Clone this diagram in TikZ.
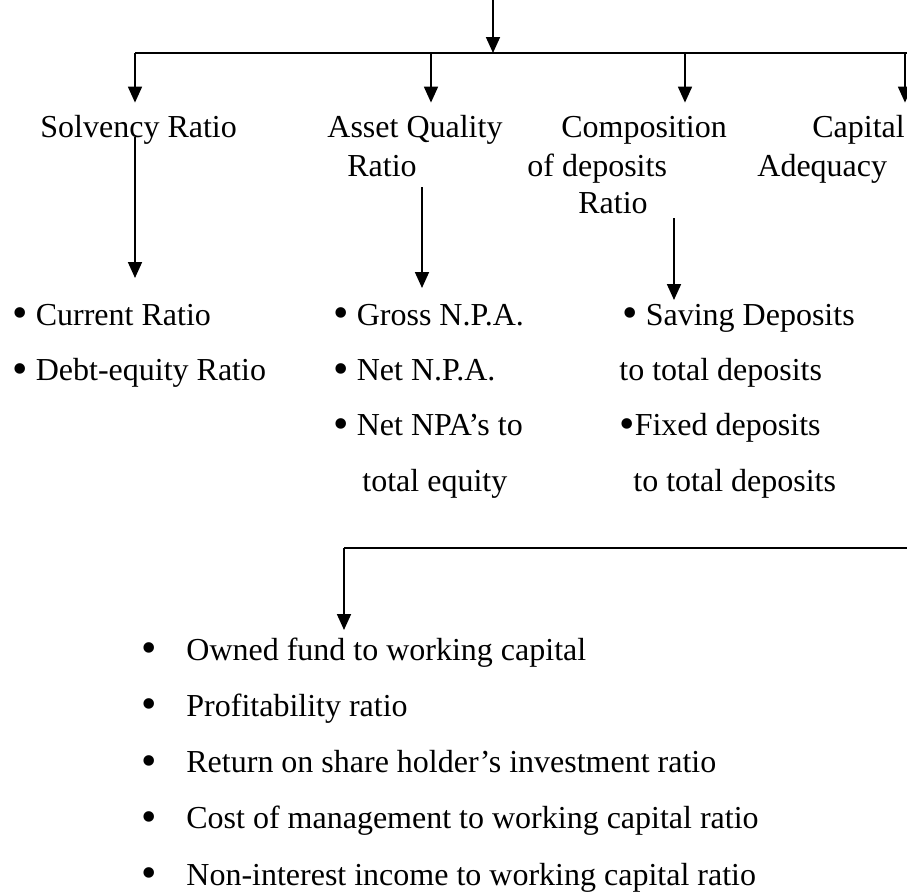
\documentclass[tikz,border=0pt]{standalone}
\usepackage{fontspec}
\setmainfont{Liberation Serif}
\usepackage{tikz}
\usetikzlibrary{arrows.meta,positioning}
\newcommand{\blob}{\raisebox{-1.2pt}{\fontsize{22}{22}\selectfont\textbullet}}
\newcommand{\tabbullet}{\makebox[22.5pt][l]{\blob}}

\begin{document}
\begin{tikzpicture}
			[x=0.5pt, y=-0.5pt, inner sep=0pt,
			head/.style		= {anchor=base west, font=\fontsize{16}{19}\selectfont, text height=11.5pt, text depth=3.5pt, inner xsep=0pt, inner ysep=5.5pt},
			item/.style		= {anchor=base west, font=\fontsize{16}{19}\selectfont, text height=11.5pt, text depth=3.5pt},
			bus/.style		= {draw, line width=1.3pt},
			link/.style		= {draw, line width=0.9pt, -{Triangle[length=8pt, width=7pt]}}]

			\useasboundingbox (0,0) rectangle (907,895);

			\coordinate (top)	at (493,0);
			\coordinate (hub)	at (493,53);
			\coordinate (b1)	at (135,53);
			\coordinate (b2)	at (431,53);
			\coordinate (b3)	at (685,53);
			\coordinate (b4)	at (905,53);
			\coordinate (busR)	at (907,53);

			\node [head]	at (40,137)		(solv)	{Solvency Ratio};
			\node [head]	at (327,137)	(aq1)	{Asset Quality};
			\node [head]	at (347,176)	(aq2)	{Ratio};
			\node [head]	at (561,137)	(cd1)	{Composition};
			\node [head]	at (527,176)	(cd2)	{of deposits};
			\node [head]	at (578,213)	(cd3)	{Ratio};
			\node [head]	at (812,137)	(ca1)	{Capital};
			\node [head]	at (757,176)	(ca2)	{Adequacy};

			\draw [link]	(top) -- (hub);
			\draw [bus]		(b1) -- (busR);
			\draw [link]	(b1) -- (solv.north -| b1);
			\draw [link]	(b2) -- (aq1.north -| b2);
			\draw [link]	(b3) -- (cd1.north -| b3);
			\draw [link]	(b4) -- (ca1.north -| b4);

			% ratios under each head
			\node [item]	at (12,325)		(cr)	{\blob\ Current Ratio};
			\node [item]	[below right = 12.5pt and 0pt of cr.south west]		(de)	{\blob\ Debt-equity Ratio};

			\node [item]	at (333,325)	(gn)	{\blob\ Gross N.P.A.};
			\node [item]	[below right = 12.5pt and 0pt of gn.south west]		(nn)	{\blob\ Net N.P.A.};
			\node [item]	[below right = 12pt and 0pt of nn.south west]		(np)	{\blob\ Net NPA’s to};
			\node [item]	[below right = 12.5pt and 14.5pt of np.south west]	(te)	{total equity};

			\node [item]	at (622,325)	(sd)	{\blob\ Saving Deposits};
			\node [item]	[below right = 12.5pt and -1.5pt of sd.south west]	(td1)	{to total deposits};
			\node [item]	[below right = 12pt and 0pt of td1.south west]		(fd)	{\blob Fixed deposits};
			\node [item]	[below right = 12.5pt and 7pt of fd.south west]		(td2)	{to total deposits};

			\coordinate (svtip)	at (135,278);
			\coordinate (aqtip)	at (422,288);
			\coordinate (cdtip)	at (674,300);
			\draw [link]	(solv.base -| svtip) -- (svtip);
			\draw [link, shorten <=5.5pt]	(aq2.base -| aqtip) -- (aqtip);
			\draw [link, shorten <=2.5pt]	(cd3.base -| cdtip) -- (cdtip);

			% lower branch
			\coordinate (lowR)	at (907,548);
			\coordinate (lowL)	at (344,548);
			\coordinate (owtip)	at (344,630);
			\draw [bus]		(lowR) -- (lowL);
			\draw [link]	(lowL) -- (owtip);

			\node [item]	at (141,660)	(own)	{\tabbullet Owned fund to working capital};
			\node [item]	[below right = 12.75pt and 0pt of own.south west]	(prof)	{\tabbullet Profitability ratio};
			\node [item]	[below right = 12.75pt and 0pt of prof.south west]	(ret)	{\tabbullet Return on share holder’s investment ratio};
			\node [item]	[below right = 12.75pt and 0pt of ret.south west]	(cost)	{\tabbullet Cost of management to working capital ratio};
			\node [item]	[below right = 12.75pt and 0pt of cost.south west]	(nonint){\tabbullet Non-interest income to working capital ratio};
\end{tikzpicture}
\end{document}
